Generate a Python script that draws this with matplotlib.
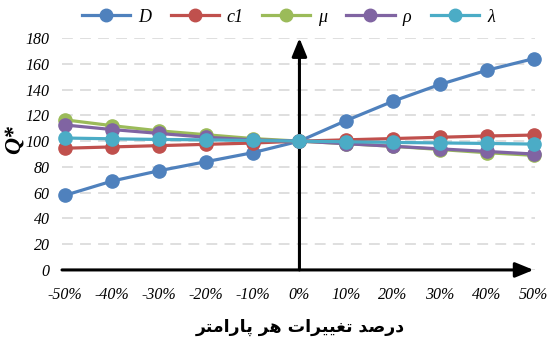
import numpy as np
import matplotlib.pyplot as plt

# percent change of each parameter
changes = [-50, -40, -30, -20, -10, 0, 10, 20, 30, 40, 50]
tick_labels = ["%d%%" % c for c in changes]

D = [58, 69, 77, 84, 91, 100, 116, 131, 144, 155, 164]
c1 = [94.5, 95.5, 96.5, 97.5, 98.5, 100, 101, 102, 103, 104, 104.7]
mu = [116.5, 112, 108, 105, 102, 100, 98, 96, 93.5, 91, 89]
rho = [112.5, 109, 106, 103, 101, 100, 98, 96, 94, 92, 90]
lam = [102.4, 101.8, 101.3, 101, 100.5, 100, 99.5, 99, 98.6, 98.2, 97.7]

series = [("D", D, "#4F81BD"), ("c1", c1, "#C0504D"), (r"\mu", mu, "#9BBB59"),
          (r"\rho", rho, "#8064A2"), (r"\lambda", lam, "#4BACC6")]

plt.rcParams["mathtext.fontset"] = "custom"
plt.rcParams["mathtext.it"] = "Liberation Serif:italic"
plt.rcParams["mathtext.rm"] = "Liberation Serif"

fig = plt.figure(figsize=(5.51, 3.37), dpi=100)
ax = fig.add_axes([0.1125, 0.199, 0.8585, 0.688])

for name, vals, col in series:
    ax.plot(changes, vals, color=col, lw=2.3, marker="o", ms=9.5,
            label="$%s$" % name if name != "c1" else "c1", clip_on=False)

ax.set_xlim(-50.7, 50.3)
ax.set_ylim(0, 180)
ax.set_yticks(range(0, 181, 20))
ax.set_xticks(changes)
ax.set_xticklabels(tick_labels)
ax.grid(axis="y", color="#DCDCDC", ls=(0, (6, 4)), lw=1.3)
ax.set_axisbelow(True)
for s in ax.spines.values():
    s.set_visible(False)
ax.tick_params(length=0)
for t in ax.get_xticklabels() + ax.get_yticklabels():
    t.set_fontfamily("Liberation Serif")
    t.set_fontstyle("italic")
    t.set_fontsize(11.5)
ax.tick_params(axis="x", pad=12)
ax.tick_params(axis="y", pad=9)

# axes arrows
ax.annotate("", xy=(50, 0), xytext=(-50.7, 0), annotation_clip=False,
            arrowprops=dict(arrowstyle="-|>,head_length=1.1,head_width=0.45",
                            color="black", lw=2.2, shrinkA=0, shrinkB=0), zorder=1)
ax.annotate("", xy=(0, 180), xytext=(0, 0), annotation_clip=False,
            arrowprops=dict(arrowstyle="-|>,head_length=1.1,head_width=0.45",
                            color="black", lw=2.2, shrinkA=0, shrinkB=0), zorder=1)

fig.text(15 / 551, 1 - 140 / 337, "Q*", rotation=90, ha="center", va="center",
         fontfamily="Liberation Serif", fontstyle="italic", fontweight="bold", fontsize=17)

# "درصد تغییرات هر پارامتر" written with shaped presentation forms (visual order)
xlab = "\uFEAE\uFE98\uFEE3\uFE8D\uFEAD\uFE8E\uFB58 \uFEAE\uFEEB \uFE95\uFE8D\uFEAE\uFEF4\uFEF4\uFED0\uFE97 \uFEAA\uFEBB\uFEAD\uFEA9"
fig.text(300 / 551, 1 - 327 / 337, xlab, ha="center", va="center",
         fontfamily="DejaVu Sans", fontweight="bold", fontsize=12.5)

leg = ax.legend(loc="center", bbox_to_anchor=(0.48, 1 + 20 / 232), ncol=5, frameon=False,
                handlelength=2.7, columnspacing=1.0, handletextpad=0.4,
                prop={"family": "Liberation Serif", "style": "italic", "size": 13})
for h in leg.legend_handles:
    h.set_markersize(9)

fig.savefig("out.png", dpi=100)
